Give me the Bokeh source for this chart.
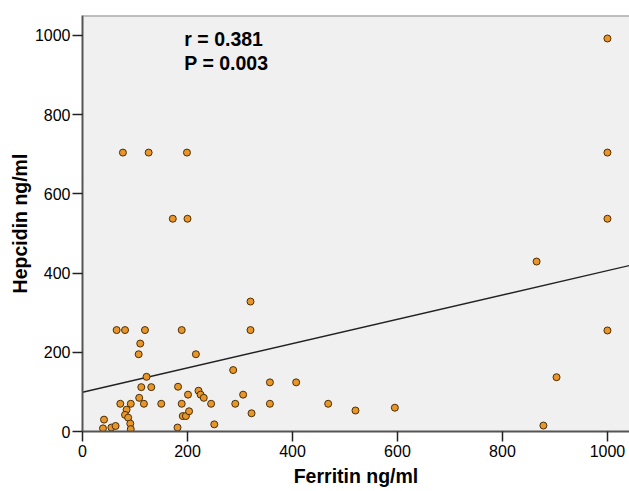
from bokeh.plotting import figure
from bokeh.models import Range1d, Label, Span, FixedTicker
from bokeh.embed import file_html
from bokeh.resources import INLINE

# Data
ferritin = [1000, 1000, 1000, 1000, 865, 903, 878,
            77, 126, 199, 172, 200,
            65, 81, 119, 189, 320, 320,
            110, 107, 216, 122, 287,
            112, 131, 182, 201, 221, 225, 231, 108, 306, 357, 407,
            72, 92, 117, 150, 189, 245, 291, 357, 468,
            322, 520, 595, 84, 81, 87, 91, 92,
            41, 39, 55, 63, 191, 197, 203, 181, 251]
hepcidin = [992, 704, 537, 255, 429, 137, 15,
            704, 704, 704, 537, 537,
            256, 256, 256, 256, 256, 328,
            222, 195, 195, 138, 155,
            112, 112, 113, 93, 103, 93, 85, 85, 93, 124, 124,
            70, 70, 70, 70, 70, 70, 70, 70, 70,
            46, 53, 60, 55, 42, 35, 20, 6,
            30, 8, 10, 14, 39, 39, 51, 10, 18]

fit_intercept = 99.0
fit_slope = 0.307
fit_x = [0, 1042]
fit_y = [fit_intercept + fit_slope * v for v in fit_x]

x_ticks = [0, 200, 400, 600, 800, 1000]
y_ticks = [0, 200, 400, 600, 800, 1000]
stats_lines = ["r = 0.381", "P = 0.003"]
x_title = "Ferritin ng/ml"
y_title = "Hepcidin ng/ml"

FONT = "Liberation Sans"
X_MAX, Y_MAX = 1042, 1050

p = figure(width=629, height=491,
           x_range=Range1d(0, X_MAX), y_range=Range1d(0, Y_MAX),
           output_backend="svg", toolbar_location=None,
           min_border_left=82, min_border_right=0,
           min_border_top=15, min_border_bottom=60)

p.background_fill_color = "#f0f0f0"
p.border_fill_color = "white"
p.outline_line_color = None
p.grid.visible = False

# top frame border
p.add_layout(Span(location=Y_MAX, dimension="width",
                  line_color="#888888", line_width=2))

for ax in (p.xaxis, p.yaxis):
    ax.axis_line_color = "#555555"
    ax.axis_line_width = 2
    ax.major_tick_line_color = "#222222"
    ax.major_tick_line_width = 1.5
    ax.major_tick_out = 10
    ax.major_tick_in = 0
    ax.minor_tick_line_color = None
    ax.major_label_text_font = FONT
    ax.major_label_text_font_size = "16px"
    ax.major_label_text_color = "black"
    ax.axis_label_text_font = FONT
    ax.axis_label_text_font_size = "19.5px"
    ax.axis_label_text_font_style = "bold"
    ax.axis_label_text_color = "black"

p.xaxis.ticker = FixedTicker(ticks=x_ticks)
p.yaxis.ticker = FixedTicker(ticks=y_ticks)
p.xaxis.axis_label = x_title
p.yaxis.axis_label = y_title
p.xaxis.major_label_standoff = 3
p.xaxis.axis_label_standoff = 5
p.yaxis.major_label_standoff = 2
p.yaxis.axis_label_standoff = 1

p.line(fit_x, fit_y, line_color="#222222", line_width=1.4)

p.scatter(ferritin, hepcidin, size=7, fill_color="#E8962A",
          line_color="#4a2e05", line_width=1)

for txt, yy in zip(stats_lines, [990, 929]):
    p.add_layout(Label(x=194, y=yy, text=txt, text_font=FONT,
                       text_font_size="19.5px", text_font_style="bold",
                       text_baseline="middle", text_align="left",
                       text_color="black"))

open("out.html", "w").write(file_html(p, INLINE))
